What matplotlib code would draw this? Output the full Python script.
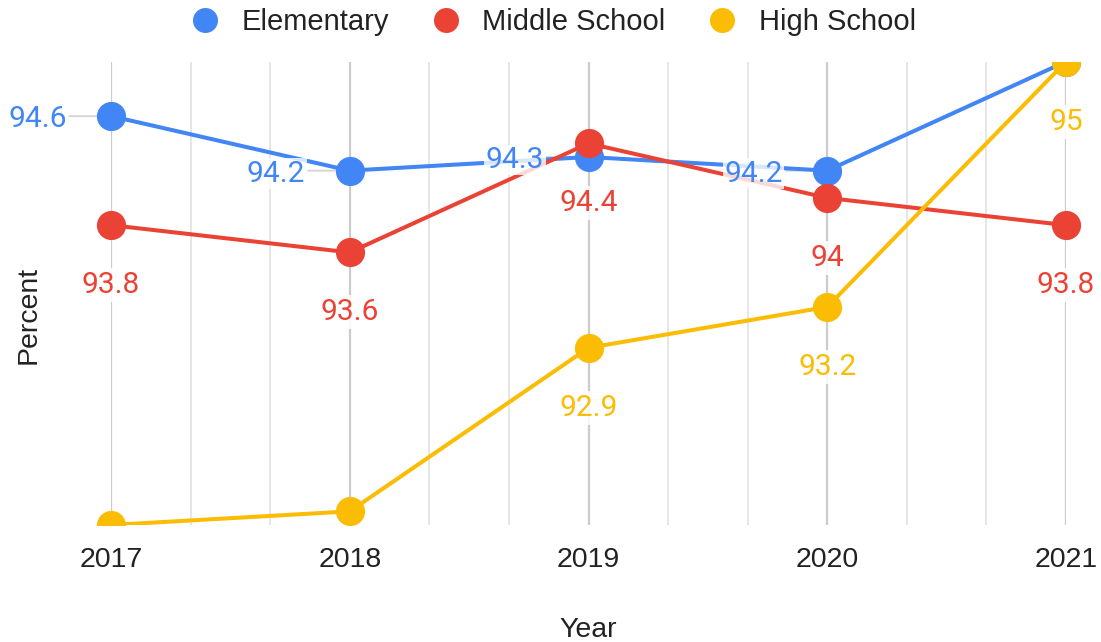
import matplotlib
matplotlib.use("Agg")
import matplotlib.pyplot as plt
from matplotlib.lines import Line2D
from matplotlib.patches import Rectangle
from matplotlib.ticker import MultipleLocator

years = [2017, 2018, 2019, 2020, 2021]
elementary = [94.6, 94.2, 94.3, 94.2, 95.0]
middle = [93.8, 93.6, 94.4, 94.0, 93.8]
high = [91.6, 91.7, 92.9, 93.2, 95.0]

series_names = ["Elementary", "Middle School", "High School"]
series_values = [elementary, middle, high]
series_colors = ["#4285F4", "#EA4335", "#FBBC04"]
# which data labels are shown (Google Sheets hides some)
label_shown = [
    [True, True, True, True, False],
    [True, True, True, True, True],
    [False, False, True, True, True],
]
label_side = ["left", "below", "below"]

W, H, DPI = 1101, 642, 100
fig = plt.figure(figsize=(W / DPI, H / DPI), dpi=DPI)
fig.patch.set_facecolor("white")

ax_left, ax_right = 111 / W, 1066 / W
ax_top, ax_bottom = 1 - 61.6 / H, 1 - 525 / H
ax = fig.add_axes([ax_left, ax_bottom, ax_right - ax_left, ax_top - ax_bottom])
ax.set_xlim(2017, 2021)
ax.set_ylim(91.6, 95.0)

for s in ax.spines.values():
    s.set_visible(False)

ax.xaxis.set_major_locator(MultipleLocator(1))
ax.xaxis.set_minor_locator(MultipleLocator(1 / 3))
ax.set_xticks(years)
ax.set_xticklabels([str(y) for y in years], fontsize=20.5, family="Liberation Sans", color="#222222")
ax.tick_params(axis="x", which="both", length=0, pad=16)
ax.set_yticks([])
ax.grid(axis="x", which="major", color="#cccccc", lw=1.6, zorder=0)
ax.grid(axis="x", which="minor", color="#e6e6e6", lw=1.4, zorder=0)
ax.set_axisbelow(True)

clip_rect = Rectangle((-0.2, 0), 1.4, 1, transform=ax.transAxes, facecolor="none", edgecolor="none")
ax.add_patch(clip_rect)

for i, (name, vals, col) in enumerate(zip(series_names, series_values, series_colors)):
    ln, = ax.plot(years, vals, color=col, lw=2.9, marker="o", markersize=21,
                  markeredgewidth=0, zorder=3 + i, solid_capstyle="round")
    ln.set_clip_path(clip_rect)

for i, (vals, col) in enumerate(zip(series_values, series_colors)):
    for j, (x, v) in enumerate(zip(years, vals)):
        if not label_shown[i][j]:
            continue
        txt = f"{v:g}"
        if label_side[i] == "left":
            ax.annotate(txt, (x, v), xytext=(-32, 0), textcoords="offset points",
                        ha="right", va="center_baseline", fontsize=21.5, family="Roboto",
                        color=col, zorder=10,
                        bbox=dict(boxstyle="square,pad=0.05", fc="white", ec="none", alpha=0.8))
            ax.annotate("", (x, v), xytext=(-30, 0), textcoords="offset points",
                        arrowprops=dict(arrowstyle="-", color="#d6d6d6", lw=1.4,
                                        shrinkA=0, shrinkB=10), zorder=2)
        else:
            ax.annotate(txt, (x, v), xytext=(0, -41), textcoords="offset points",
                        ha="center", va="center_baseline", fontsize=21.5, family="Roboto",
                        color=col, zorder=10,
                        bbox=dict(boxstyle="square,pad=0.1", fc="white", ec="none", alpha=0.85))

handles = [Line2D([], [], color=c, marker="o", linestyle="none", markersize=18, markeredgewidth=0)
           for c in series_colors]
fig.legend(handles, series_names, loc="center", bbox_to_anchor=(553 / W, 1 - 22 / H),
           ncol=3, frameon=False, prop=dict(family="Liberation Sans", size=21),
           labelcolor="#222222", handlelength=1.0, handletextpad=0.75, columnspacing=1.45,
           borderaxespad=0, borderpad=0)

fig.text(588 / W, 1 - 630 / H, "Year", ha="center", va="center", fontsize=20.5,
         family="Liberation Sans", color="#222222")
fig.text(29 / W, 1 - 315 / H, "Percent", ha="center", va="center", rotation=90,
         fontsize=20.5, family="Liberation Sans", color="#222222")

fig.savefig("out.png", dpi=DPI, facecolor="white")
